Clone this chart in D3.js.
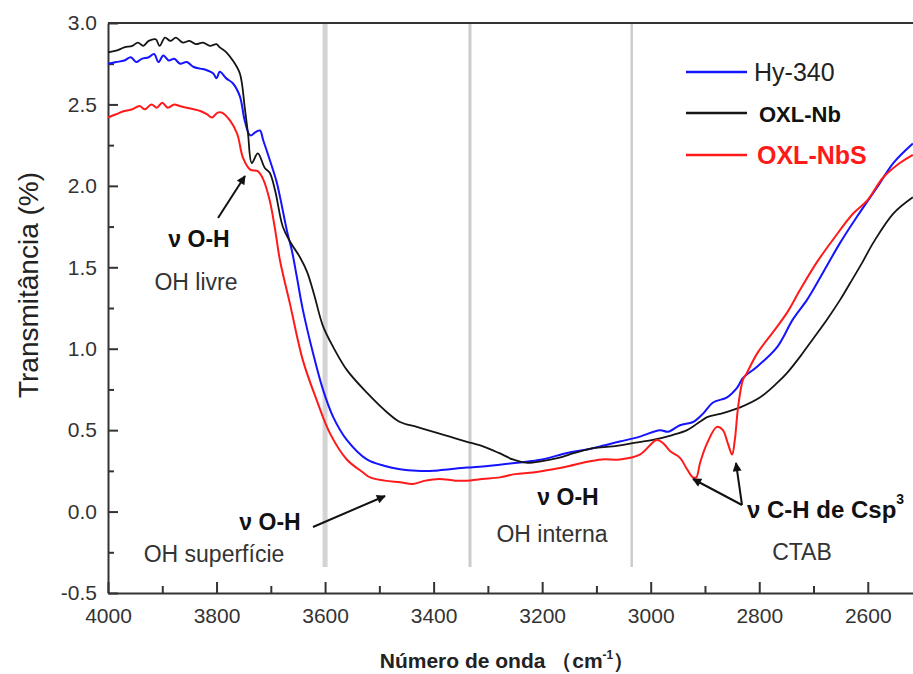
<!DOCTYPE html>
<html>
<head>
<meta charset="utf-8">
<script src="https://cdn.jsdelivr.net/npm/d3@7"></script>
<style>
  body { margin: 0; background: #fff; }
  text { font-family: "Liberation Sans", Arial, sans-serif; }
</style>
</head>
<body>
<script>
// wavenumber (cm-1) and transmittance
const hyX = [4000,3985,3970,3958,3948,3938,3925,3915,3907,3898,3888,3878,3867,3855,3842,3830,3818,3806,3800,3794,3782,3770,3757,3748,3738,3728,3720,3714,3702,3689,3670,3661,3652,3641,3622,3604,3585,3560,3523,3490,3462,3431,3400,3370,3339,3300,3246,3200,3154,3120,3093,3057,3020,2983,2968,2946,2922,2904,2885,2860,2841,2830,2804,2767,2738,2712,2694,2651,2620,2583,2553,2517]
const hyY = [2.75,2.76,2.77,2.79,2.76,2.78,2.79,2.81,2.76,2.80,2.77,2.78,2.75,2.76,2.73,2.72,2.71,2.69,2.66,2.70,2.66,2.63,2.55,2.40,2.31,2.33,2.34,2.28,2.16,2.02,1.72,1.60,1.44,1.24,0.97,0.75,0.58,0.44,0.32,0.28,0.26,0.25,0.25,0.26,0.27,0.28,0.30,0.32,0.36,0.38,0.40,0.43,0.46,0.50,0.49,0.53,0.55,0.60,0.67,0.70,0.76,0.82,0.89,1.01,1.18,1.30,1.40,1.65,1.81,1.99,2.14,2.26]

const nbX = [4000,3985,3970,3955,3945,3935,3925,3912,3905,3895,3885,3875,3862,3850,3838,3825,3812,3800,3794,3782,3770,3757,3748,3742,3735,3724,3711,3702,3692,3678,3665,3646,3633,3620,3604,3585,3560,3523,3486,3462,3431,3400,3370,3340,3309,3280,3254,3230,3200,3170,3140,3106,3070,3033,2996,2960,2933,2910,2896,2872,2835,2799,2767,2749,2725,2701,2675,2651,2633,2610,2590,2553,2517]
const nbY = [2.82,2.83,2.85,2.86,2.88,2.86,2.89,2.90,2.86,2.91,2.89,2.91,2.88,2.89,2.87,2.88,2.86,2.87,2.85,2.82,2.77,2.69,2.48,2.32,2.14,2.20,2.11,2.08,1.97,1.75,1.66,1.56,1.47,1.33,1.14,1.01,0.87,0.73,0.61,0.55,0.52,0.49,0.46,0.43,0.40,0.36,0.32,0.30,0.31,0.33,0.36,0.39,0.40,0.42,0.44,0.47,0.50,0.55,0.58,0.60,0.64,0.70,0.79,0.85,0.95,1.06,1.18,1.30,1.40,1.53,1.65,1.83,1.93]

const nbsX = [4000,3985,3970,3955,3942,3932,3920,3910,3900,3890,3878,3868,3855,3842,3830,3818,3808,3798,3790,3775,3762,3751,3738,3724,3714,3702,3692,3683,3665,3641,3615,3591,3560,3530,3517,3490,3462,3438,3415,3390,3360,3339,3310,3278,3250,3217,3180,3150,3125,3090,3057,3020,2989,2977,2964,2946,2933,2922,2916,2909,2896,2878,2867,2858,2850,2845,2839,2830,2823,2804,2775,2749,2725,2694,2664,2627,2601,2572,2541,2517]
const nbsY = [2.42,2.44,2.46,2.47,2.49,2.47,2.50,2.48,2.51,2.48,2.50,2.49,2.48,2.47,2.46,2.44,2.42,2.45,2.45,2.40,2.32,2.17,2.10,2.09,2.04,1.91,1.73,1.54,1.28,0.93,0.68,0.48,0.32,0.24,0.21,0.19,0.18,0.17,0.19,0.20,0.19,0.19,0.20,0.21,0.23,0.24,0.26,0.28,0.30,0.32,0.32,0.35,0.44,0.42,0.37,0.33,0.26,0.21,0.21,0.30,0.42,0.52,0.50,0.42,0.35,0.44,0.64,0.81,0.85,0.97,1.10,1.22,1.36,1.53,1.67,1.83,1.91,2.05,2.14,2.19]

const seriesNames = ['Hy-340', 'OXL-Nb', 'OXL-NbS']
const xTicks = [4000, 3800, 3600, 3400, 3200, 3000, 2800, 2600]
const xMinor = [3900, 3700, 3500, 3300, 3100, 2900, 2700]
const yTicks = [-0.5, 0.0, 0.5, 1.0, 1.5, 2.0, 2.5, 3.0]
const yMinor = [-0.25, 0.25, 0.75, 1.25, 1.75, 2.25, 2.75]
const regionLines = [3600, 3333, 3035]

const width = 913
const height = 674
const margin = {left: 108, top: 23, bottom: 81}

const x = d3.scaleLinear().domain([4000, 2500]).range([margin.left, margin.left + 1500 * 0.5427])
const y = d3.scaleLinear().domain([-0.5, 3.0]).range([height - margin.bottom, margin.top])

const svg = d3.select('body').append('svg').attr('width', width).attr('height', height)

svg.append('defs').append('marker').attr('id', 'head')
  .attr('viewBox', '0 0 10 10').attr('refX', 9).attr('refY', 5)
  .attr('orient', 'auto').attr('markerUnits', 'userSpaceOnUse')
  .attr('markerWidth', 15).attr('markerHeight', 9)
  .append('path').attr('d', 'M0,0L10,5L0,10Z').attr('fill', '#111')

// grey region separators
svg.selectAll('.region')
  .data(regionLines)
  .enter().append('line')
    .attr('class', 'region')
    .attr('x1', d => x(d)).attr('x2', d => x(d))
    .attr('y1', margin.top).attr('y2', 567)
    .attr('stroke', (d, i) => i == 0 ? '#d4d4d4' : '#cccccc')
    .attr('stroke-width', (d, i) => i == 0 ? 5 : (i == 1 ? 3 : 2.5))

// axes
const axisColor = '#333'
svg.append('g').attr('transform', 'translate(' + margin.left + ',0)')
  .call(d3.axisLeft(y).tickValues(yTicks).tickSize(-10).tickSizeOuter(0).tickPadding(11).tickFormat(d => d.toFixed(1)))
svg.append('g').attr('transform', 'translate(' + margin.left + ',0)')
  .call(d3.axisLeft(y).tickValues(yMinor).tickSize(-6).tickFormat(''))
  .select('.domain').remove()

svg.append('g').attr('transform', 'translate(0,' + y(-0.5) + ')')
  .call(d3.axisBottom(x).tickValues(xTicks).tickSize(-11).tickSizeOuter(0).tickPadding(15).tickFormat(d3.format('d')))
svg.append('g').attr('transform', 'translate(0,' + y(-0.5) + ')')
  .call(d3.axisBottom(x).tickValues(xMinor).tickSize(-7).tickFormat(''))
  .select('.domain').remove()

svg.append('line')
  .attr('x1', margin.left).attr('x2', width).attr('y1', margin.top).attr('y2', margin.top)
  .attr('stroke', axisColor).attr('stroke-width', 2)

svg.selectAll('.tick line, .domain').attr('stroke', axisColor).attr('stroke-width', 2)
svg.selectAll('.tick text').attr('fill', '#333').style('font-size', '21px')

// spectra
const line = d3.line().x(d => x(d[0])).y(d => y(d[1])).curve(d3.curveCatmullRom.alpha(0.5))
const series = [
  {name: seriesNames[0], xs: hyX, ys: hyY, color: '#1414ff', w: 2},
  {name: seriesNames[1], xs: nbX, ys: nbY, color: '#151515', w: 1.8},
  {name: seriesNames[2], xs: nbsX, ys: nbsY, color: '#ff1a1a', w: 2}
]
svg.selectAll('.spectrum')
  .data(series)
  .enter().append('path')
    .attr('class', 'spectrum')
    .attr('fill', 'none')
    .attr('stroke', d => d.color)
    .attr('stroke-width', d => d.w)
    .attr('d', d => line(d.xs.map((v, i) => [v, d.ys[i]])))

// legend
const legend = svg.append('g')
const legendRows = [
  {text: seriesNames[0], color: '#1414ff', fill: '#222', weight: 'normal', size: 25, ly: 72, tx: 754},
  {text: seriesNames[1], color: '#151515', fill: '#111', weight: 'bold', size: 22, ly: 113, tx: 759},
  {text: seriesNames[2], color: '#ff1a1a', fill: '#ff1a1a', weight: 'bold', size: 25, ly: 155, tx: 757}
]
legendRows.forEach(r => {
  legend.append('line').attr('x1', 686).attr('x2', 747).attr('y1', r.ly).attr('y2', r.ly)
    .attr('stroke', r.color).attr('stroke-width', 2.5)
  legend.append('text').attr('x', r.tx).attr('y', r.ly + 9).text(r.text)
    .attr('fill', r.fill).style('font-weight', r.weight).style('font-size', r.size + 'px')
})

// axis titles
svg.append('text')
  .attr('transform', 'translate(38,285) rotate(-90)')
  .attr('text-anchor', 'middle').style('font-size', '28px').attr('fill', '#222')
  .text('Transmitância (%)')
const xt = svg.append('text').attr('x', 507).attr('y', 668).attr('text-anchor', 'middle')
  .style('font-size', '21px').style('font-weight', 'bold').attr('fill', '#222')
xt.append('tspan').text('Número de onda （cm')
xt.append('tspan').attr('dy', -9).style('font-size', '12px').text('-1')
xt.append('tspan').attr('dy', 9).text('）')

// annotations
const notes = [
  {t: 'ν O-H', x: 199, y: 247, b: true},
  {t: 'OH livre', x: 196, y: 290, b: false},
  {t: 'ν O-H', x: 270, y: 530, b: true},
  {t: 'OH superfície', x: 214, y: 562, b: false},
  {t: 'ν O-H', x: 568, y: 505, b: true},
  {t: 'OH interna', x: 552, y: 542, b: false},
  {t: 'CTAB', x: 802, y: 560, b: false}
]
svg.selectAll('.note')
  .data(notes)
  .enter().append('text')
    .attr('class', 'note')
    .attr('x', d => d.x).attr('y', d => d.y)
    .attr('text-anchor', 'middle')
    .attr('fill', d => d.b ? '#111' : '#333')
    .style('font-weight', d => d.b ? 'bold' : 'normal')
    .style('font-size', '23px')
    .text(d => d.t)

const ch = svg.append('text').attr('x', 747).attr('y', 518).attr('fill', '#111')
  .style('font-weight', 'bold').style('font-size', '24px')
ch.append('tspan').text('ν C-H de Csp')
ch.append('tspan').attr('dy', -14).style('font-size', '14px').text('3')

const arrows = [
  [218, 218, 245, 176],
  [313, 527, 385, 496],
  [742, 505, 693, 479],
  [742, 505, 736, 463]
]
svg.selectAll('.arrow')
  .data(arrows)
  .enter().append('line')
    .attr('class', 'arrow')
    .attr('x1', d => d[0]).attr('y1', d => d[1])
    .attr('x2', d => d[2]).attr('y2', d => d[3])
    .attr('stroke', '#111').attr('stroke-width', 2)
    .attr('marker-end', 'url(#head)')
</script>
</body>
</html>
